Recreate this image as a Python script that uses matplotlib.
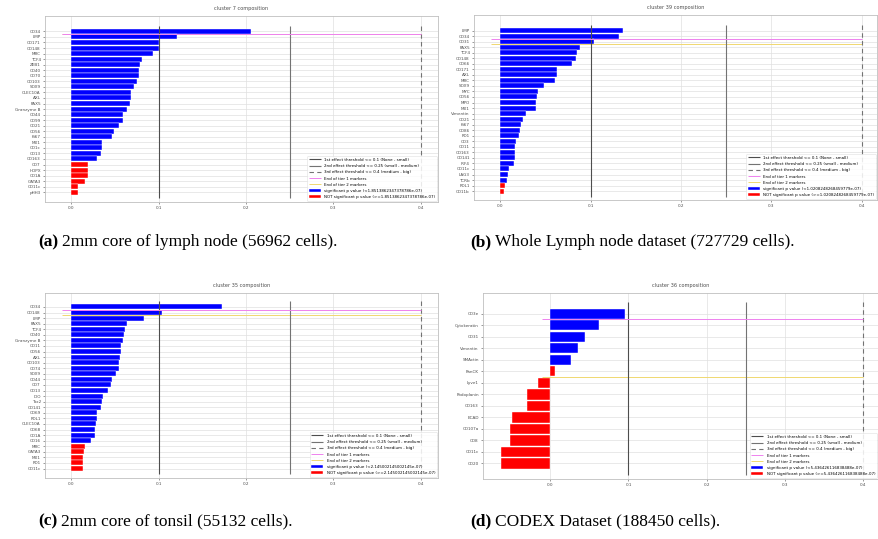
#! /usr/bin/env python3
"""
Cluster composition bar charts (four panels) with effect thresholds
"""
import numpy as np
import matplotlib
matplotlib.use('Agg')
import matplotlib.pyplot as plt

# panel (a): cluster 7, 2mm core of lymph node
labels_a = ['CD34', 'LMP', 'CD171', 'CD148', 'MRC', 'TCF4', 'ZEB1', 'CD40', 'CD70', 'CD103',
            'SOX9', 'CLEC10A', 'AXL', 'PAX5', 'Granzyme B', 'CD44', 'CD99', 'CD21', 'CD56', 'Ki67',
            'MX1', 'CD1c', 'CD13', 'CD163', 'CD7', 'HOPX', 'CD1A', 'GATA3', 'CD11c', 'pHH3']
values_a = [0.206, 0.121, 0.101, 0.101, 0.094, 0.081, 0.079, 0.078, 0.078, 0.075,
            0.072, 0.069, 0.068, 0.067, 0.064, 0.059, 0.059, 0.055, 0.049, 0.047,
            0.035, 0.035, 0.034, 0.029, 0.019, 0.019, 0.019, 0.016, 0.008, 0.008]
n_sig_a = 24
tiers_a = [0.5, 0.5]
pval_a = '1.8513862347378786e-07'

# panel (b): cluster 39, whole lymph node
labels_b = ['LMP', 'CD34', 'CD31', 'PAX5', 'TCF4', 'CD148', 'CD66', 'CD171', 'AXL', 'MRC',
            'SOX9', 'MYC', 'CD56', 'MPO', 'MX1', 'Vimentin', 'CD21', 'Ki67', 'CD86', 'PD1',
            'CD3', 'CD11', 'CD163', 'CD141', 'IRF4', 'CD11c', 'LAG3', 'TCRb', 'PDL1', 'CD11b']
values_b = [0.136, 0.131, 0.104, 0.088, 0.085, 0.084, 0.079, 0.063, 0.063, 0.061,
            0.049, 0.042, 0.041, 0.040, 0.040, 0.029, 0.025, 0.023, 0.022, 0.021,
            0.018, 0.016, 0.016, 0.016, 0.015, 0.010, 0.009, 0.007, 0.005, 0.004]
n_sig_b = 28
tiers_b = [1.5, 2.5]
pval_b = '1.0208248268459779e-07'

# panel (c): cluster 35, 2mm core of tonsil
labels_c = ['CD34', 'CD148', 'LMP', 'PAX5', 'TCF4', 'CD40', 'Granzyme B', 'CD11', 'CD56', 'AXL',
            'CD103', 'CD74', 'SOX9', 'CD44', 'CD7', 'CD13', 'IDO', 'Tox2', 'CD141', 'CD69',
            'PDL1', 'CLEC10A', 'CD68', 'CD1A', 'CD16', 'MRC', 'GATA3', 'MX1', 'PD1', 'CD11c']
values_c = [0.173, 0.104, 0.083, 0.064, 0.062, 0.061, 0.059, 0.057, 0.057, 0.056,
            0.055, 0.055, 0.051, 0.047, 0.046, 0.042, 0.036, 0.035, 0.034, 0.030,
            0.030, 0.028, 0.027, 0.027, 0.023, 0.016, 0.015, 0.014, 0.013, 0.013]
n_sig_c = 25
tiers_c = [0.5, 1.5]
pval_c = '2.145002145002145e-07'

# panel (d): cluster 36, CODEX dataset
labels_d = ['CD3e', 'Cytokeratin', 'CD31', 'Vimentin', 'SMActin', 'PanCK', 'Lyve1',
            'Podoplanin', 'CD163', 'ECAD', 'CD107a', 'CD8', 'CD11c', 'CD20']
values_d = [0.095, 0.062, 0.045, 0.035, 0.026, 0.006, -0.016,
            -0.030, -0.030, -0.049, -0.051, -0.052, -0.063, -0.063]
n_sig_d = 5
tiers_d = [0.5, 5.5]
pval_d = '5.436426116838488e-07'

thresholds = [0.1, 0.25, 0.4]
threshold_labels = ['1st effect threshold <= 0.1 (None - small)',
                    '2nd effect threshold <= 0.25 (small - medium)',
                    '3rd effect threshold <= 0.4 (medium - big)']
captions = ['2mm core of lymph node (56962 cells).',
            'Whole Lymph node dataset (727729 cells).',
            '2mm core of tonsil (55132 cells).',
            'CODEX Dataset (188450 cells).']


def panel(ax, labels, values, n_sig, tiers, pval, title, xlim, ylim):
    n = len(values)
    y = np.arange(n)
    v = np.array(values)
    ax.barh(y[:n_sig], v[:n_sig], height=0.9, color='blue', edgecolor='white',
            linewidth=0.3, zorder=2, label=f'significant p value (<{pval})')
    ax.barh(y[n_sig:], v[n_sig:], height=0.9, color='red', edgecolor='white',
            linewidth=0.3, zorder=2, label=f'NOT significant p value (>={pval})')
    styles = [('0.3', 'solid'), ('0.45', 'solid'), ('0.45', (0, (4, 3)))]
    for x, lab, (c, ls) in zip(thresholds, threshold_labels, styles):
        ax.vlines(x, -1, n, colors=c, linestyles=ls, linewidth=0.8, zorder=3, label=lab)
    ax.hlines(tiers[0], -0.01, 0.4, colors='violet', linewidth=0.7, zorder=3,
              label='End of tier 1 markers')
    ax.hlines(tiers[1], -0.01, 0.4, colors='#f0d870', linewidth=0.7, zorder=2.5,
              label='End of tier 2 markers')
    ax.set_yticks(y)
    ax.set_yticklabels(labels)
    ax.set_xticks([0.0, 0.1, 0.2, 0.3, 0.4])
    ax.set_xlim(*xlim)
    ax.set_ylim(*ylim)
    ax.set_axisbelow(True)
    ax.grid(True, color='0.88', linewidth=0.5)
    ax.tick_params(labelsize=3, length=1.5, width=0.4, pad=1.5, colors='0.3')
    for s in ax.spines.values():
        s.set_color('0.75')
        s.set_linewidth(0.6)
    ax.set_title(title, fontsize=3.6, color='0.3', pad=4)
    leg = ax.legend(loc='lower right', fontsize=2.9, handlelength=3, borderaxespad=0.3,
                    framealpha=0.85, edgecolor='0.85', labelspacing=0.55)
    leg.get_frame().set_linewidth(0.4)


fig = plt.figure(figsize=(8.79, 5.39), dpi=100)
W, H = 879, 539


def box(l, t, r, b):
    return [l / W, 1 - b / H, (r - l) / W, (b - t) / H]


ax_a = fig.add_axes(box(45, 16, 438, 202))
ax_b = fig.add_axes(box(474, 15, 877, 200))
ax_c = fig.add_axes(box(45, 293, 438, 478))
ax_d = fig.add_axes(box(483, 293, 878, 479))

panel(ax_a, labels_a, values_a, n_sig_a, tiers_a, pval_a, 'cluster 7 composition',
      (-0.03, 0.42), (30.75, -2.77))
panel(ax_b, labels_b, values_b, n_sig_b, tiers_b, pval_b, 'cluster 39 composition',
      (-0.029, 0.417), (30.6, -2.8))
panel(ax_c, labels_c, values_c, n_sig_c, tiers_c, pval_c, 'cluster 35 composition',
      (-0.03, 0.42), (30.7, -2.5))
panel(ax_d, labels_d, values_d, n_sig_d, tiers_d, pval_d, 'cluster 36 composition',
      (-0.086, 0.419), (14.35, -1.8))

serif = ['Liberation Serif', 'DejaVu Serif']
renderer = fig.canvas.get_renderer()
for (x, y), tag, cap in zip([(38, 242), (470, 242), (38, 521), (470, 521)],
                            ['(a)', '(b)', '(c)', '(d)'], captions):
    t = fig.text(x / W, 1 - y / H, tag, fontsize=12.5, fontweight='bold', family=serif,
                 va='center', ha='left')
    w = t.get_window_extent(renderer).width
    fig.text((x + w + 4) / W, 1 - y / H, cap, fontsize=12.5, family=serif,
             va='center', ha='left')

fig.savefig('out.png', dpi=100)
